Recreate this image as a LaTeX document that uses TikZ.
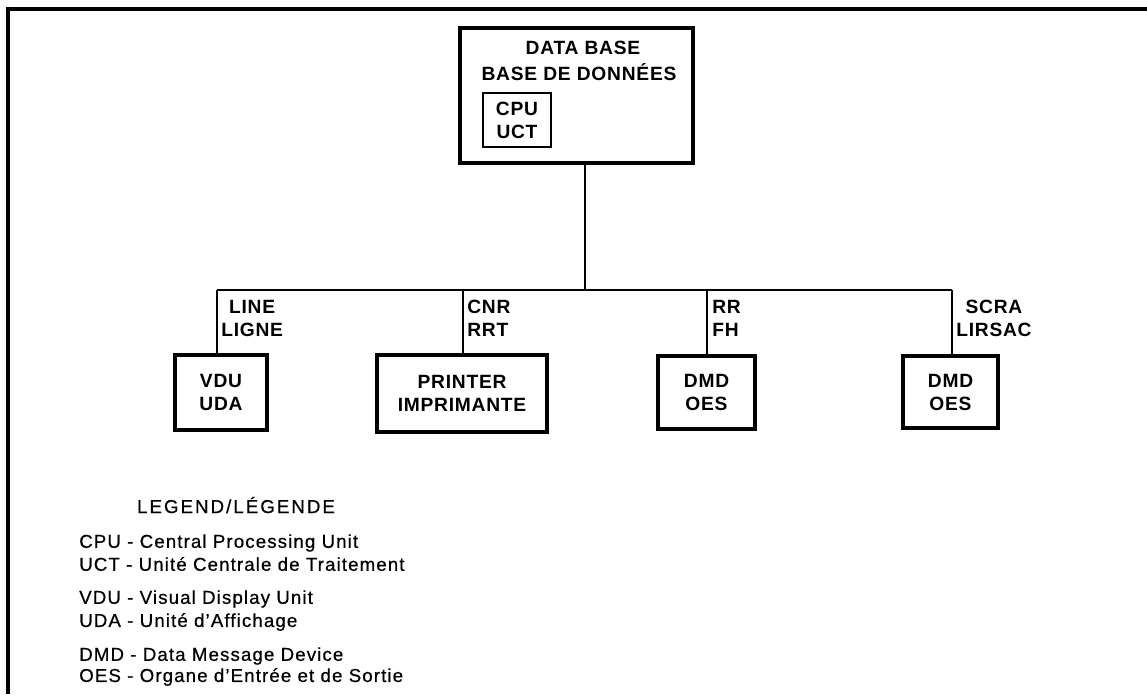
\documentclass[tikz,border=0pt]{standalone}
\usepackage{fontspec}
\setmainfont{Liberation Sans}
\begin{document}
\begin{tikzpicture}[x=0.75pt,y=-0.75pt,
  lbl/.style={inner sep=0pt,font=\fontsize{14.4}{17.25}\selectfont\bfseries\addfontfeature{LetterSpace=4}},
  box/.style={draw,line width=2.7pt,inner sep=0pt,align=center,lbl},
  leg/.style={inner sep=0pt,anchor=west,font=\fontsize{14}{17}\selectfont\addfontfeature{LetterSpace=6,FakeBold=0.6}},
  wire/.style={line width=1.8pt}]
\useasboundingbox (0,0) rectangle (1147,694);
% frame
\draw[line width=3pt] (8,694) -- (8,9) -- (1147,9);
% top box
\node[box,minimum width=174.75pt,minimum height=101.25pt] (top) at (576.5,95.5) {};
\node[lbl] (t1) at (583,48) {DATA BASE};
\node[lbl] (t2) at (579,72) {BASE DE DONNÉES};
\node[box,line width=1.8pt,minimum width=51pt,minimum height=40.5pt] (cpu) at (517,120) {CPU\\UCT};
% lower boxes
\node[box,minimum width=69pt,minimum height=56.25pt] (vdu) at (221,392.5) {VDU\\UDA};
\node[box,minimum width=127.5pt,minimum height=57.75pt] (prn) at (462,393.5) {PRINTER\\IMPRIMANTE};
\node[box,minimum width=72.75pt,minimum height=54.75pt] (dmda) at (706.5,392.5) {DMD\\OES};
\node[box,minimum width=71.25pt,minimum height=54pt] (dmdb) at (950.5,392) {DMD\\OES};
% connectors
\coordinate (stem) at (585,290);
\coordinate (jv) at (217,290);
\coordinate (jp) at (463,290);
\coordinate (ja) at (707,290);
\coordinate (jb) at (952,290);
\draw[wire] (top.south -| stem) -- (stem);
\draw[wire] (jv) -- (jb);
\draw[wire] (jv) -- (jv |- vdu.north);
\draw[wire] (jp) -- (jp |- prn.north);
\draw[wire] (ja) -- (ja |- dmda.north);
\draw[wire] (jb) -- (jb |- dmdb.north);
% link labels
\node[lbl,align=center,anchor=west] (l1) at (221,318) {LINE\\LIGNE};
\node[lbl,align=left,anchor=west] (l2) at (467,318) {CNR\\RRT};
\node[lbl,align=left,anchor=west] (l3) at (712,318) {RR\\FH};
\node[lbl,align=center,anchor=west] (l4) at (956,318) {SCRA\\LIRSAC};
% legend
\node[inner sep=0pt,font=\fontsize{14}{17}\selectfont\addfontfeature{LetterSpace=11,FakeBold=0.6}] (lg) at (236,505) {LEGEND/LÉGENDE};
\node[leg] (g1) at (79,543) {CPU - Central Processing Unit};
\node[leg] (g2) at (79,564) {UCT - Unité Centrale de Traitement};
\node[leg] (g3) at (79,599) {VDU - Visual Display Unit};
\node[leg] (g4) at (79,622) {UDA - Unité d’Affichage};
\node[leg] (g5) at (79,656) {DMD - Data Message Device};
\node[leg] (g6) at (79,677) {OES - Organe d’Entrée et de Sortie};
\end{tikzpicture}
\end{document}
